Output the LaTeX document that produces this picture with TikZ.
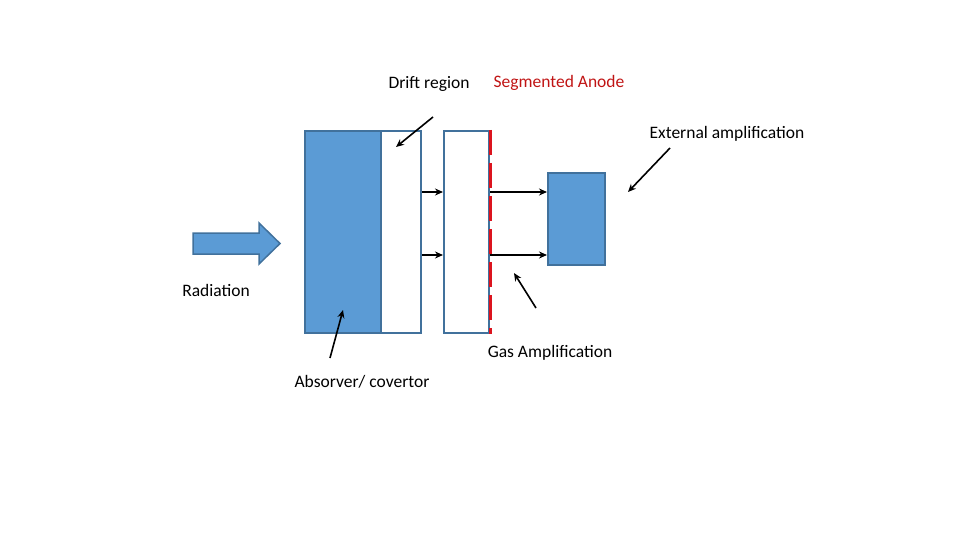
\documentclass[tikz,border=0pt]{standalone}
\usepackage{fontspec}
\setmainfont{Carlito}
\usetikzlibrary{arrows.meta}
\definecolor{fillblue}{RGB}{91,155,213}
\definecolor{edgeblue}{RGB}{65,113,156}
\definecolor{anodered}{RGB}{220,20,30}
\definecolor{textred}{RGB}{192,20,20}
\begin{document}
\begin{tikzpicture}[x=1pt,y=-1pt,
  box/.style={draw=edgeblue,line width=2pt,inner sep=0pt,anchor=north west},
  bluebox/.style={box,fill=fillblue},
  whitebox/.style={box,fill=white},
  lab/.style={font=\fontsize{17.5}{20}\selectfont,inner sep=0pt},
  arr/.style={-{Stealth[length=8pt,width=7pt]},line width=1.6pt,black}]
\useasboundingbox (0,0) rectangle (960,540);
% shapes
\node[bluebox,minimum width=76pt,minimum height=202pt] (abs) at (304,130) {};
\node[whitebox,minimum width=40pt,minimum height=202pt] (drift) at (380,130) {};
\node[whitebox,minimum width=45pt,minimum height=202pt] (gas) at (443,130) {};
\node[bluebox,minimum width=57pt,minimum height=92pt] (ext) at (547,172) {};
\draw[anodered,line width=3pt,dash pattern=on 25pt off 8pt] (gas.north east) -- (gas.south east);
% radiation arrow
\draw[draw=edgeblue,fill=fillblue,line width=1.5pt,line join=miter]
  (193,233) -- (259,233) -- (259,223) -- (280,243.5) -- (259,264) -- (259,254) -- (193,254) -- cycle;
% labels
\node[lab] (ldrift) at (429,84) {Drift region};
\node[lab,text=textred] (lanode) at (559,83) {Segmented Anode};
\node[lab] (lext) at (727,134) {External amplification};
\node[lab] (lrad) at (216,290) {Radiation};
\node[lab] (lgas) at (550,353) {Gas Amplification};
\node[lab] (labs) at (362,382) {Absorver/ covertor};
% pointer coordinates
\coordinate (pd0) at (433,117); \coordinate (pd1) at (396,147);
\coordinate (pe0) at (670,148); \coordinate (pe1) at (628,192);
\coordinate (pg0) at (536,308); \coordinate (pg1) at (514,273);
\coordinate (pa0) at (330,358); \coordinate (pa1) at (343,310);
\draw[arr] (pd0) -- (pd1);
\draw[arr] (pe0) -- (pe1);
\draw[arr] (pg0) -- (pg1);
\draw[arr] (pa0) -- (pa1);
% flow arrows
\draw[arr] (drift.east |- 0,192) -- (gas.west |- 0,192);
\draw[arr] (drift.east |- 0,255) -- (gas.west |- 0,255);
\draw[arr] (gas.east |- 0,192) -- (ext.west |- 0,192);
\draw[arr] (gas.east |- 0,255) -- (ext.west |- 0,255);
\end{tikzpicture}
\end{document}
